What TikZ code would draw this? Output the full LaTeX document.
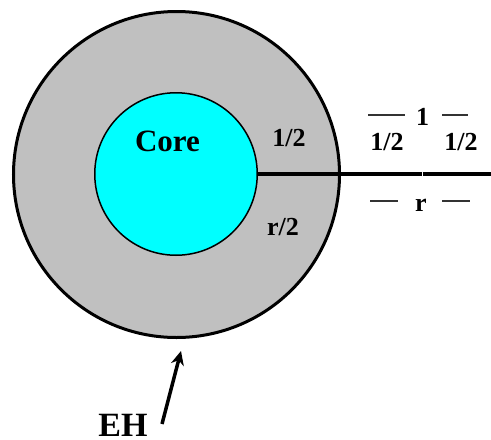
\documentclass[tikz,border=0pt]{standalone}
\usepackage{fontspec}
\setmainfont{Liberation Serif}
\usetikzlibrary{arrows.meta}
\definecolor{shellgray}{HTML}{C0C0C0}
\definecolor{corecyan}{HTML}{00FFFF}
\tikzset{
  lbl/.style={font=\fontsize{26}{26}\selectfont\bfseries, anchor=base, inner sep=0pt},
  biglbl/.style={font=\fontsize{31}{31}\selectfont\bfseries, anchor=base, inner sep=0pt},
  ehlbl/.style={font=\fontsize{34}{34}\selectfont\bfseries, anchor=base, inner sep=0pt},
  dimdash/.style={line width=1.6pt, black!80},
  radline/.style={line width=4.5pt},
}
\begin{document}
\begin{tikzpicture}[x=1pt,y=-1pt]
\useasboundingbox (0,0) rectangle (491,440);
\node[circle, draw, line width=3pt, fill=shellgray, minimum size=326pt, inner sep=0pt] (outer) at (176.5,174.5) {};
\node[circle, draw, line width=1.5pt, fill=corecyan, minimum size=162.5pt, inner sep=0pt] (core) at (176,174) {};
\node[biglbl] (corelbl) at (167.5,151) {Core};
\node[lbl] (half) at (289,146) {1/2};
\node[lbl] (rhalf) at (283,235) {r/2};
\coordinate (brkA) at (421.5,174);
\coordinate (brkB) at (422.5,174);
\coordinate (rend) at (491,174);
\draw[radline] (core.east) -- (brkA);
\draw[radline] (brkB) -- (rend);
\node[lbl] (one) at (422.5,125) {1};
\node[lbl] (halfL) at (387,150) {1/2};
\node[lbl] (halfR) at (461,150) {1/2};
\node[lbl] (rr) at (421,211) {r};
\coordinate (d1a) at (368,115); \coordinate (d1b) at (405,115);
\coordinate (d2a) at (442,115); \coordinate (d2b) at (468,115);
\coordinate (d3a) at (370,201); \coordinate (d3b) at (398,201);
\coordinate (d4a) at (442,201); \coordinate (d4b) at (470,201);
\draw[dimdash] (d1a) -- (d1b);
\draw[dimdash] (d2a) -- (d2b);
\draw[dimdash] (d3a) -- (d3b);
\draw[dimdash] (d4a) -- (d4b);
\node[ehlbl] (eh) at (123,436) {EH};
\coordinate (tail) at (162,424);
\coordinate (head) at (181,351);
\draw[line width=3.5pt, -{Stealth[length=14pt,width=13pt]}] (tail) -- (head);
\end{tikzpicture}
\end{document}
